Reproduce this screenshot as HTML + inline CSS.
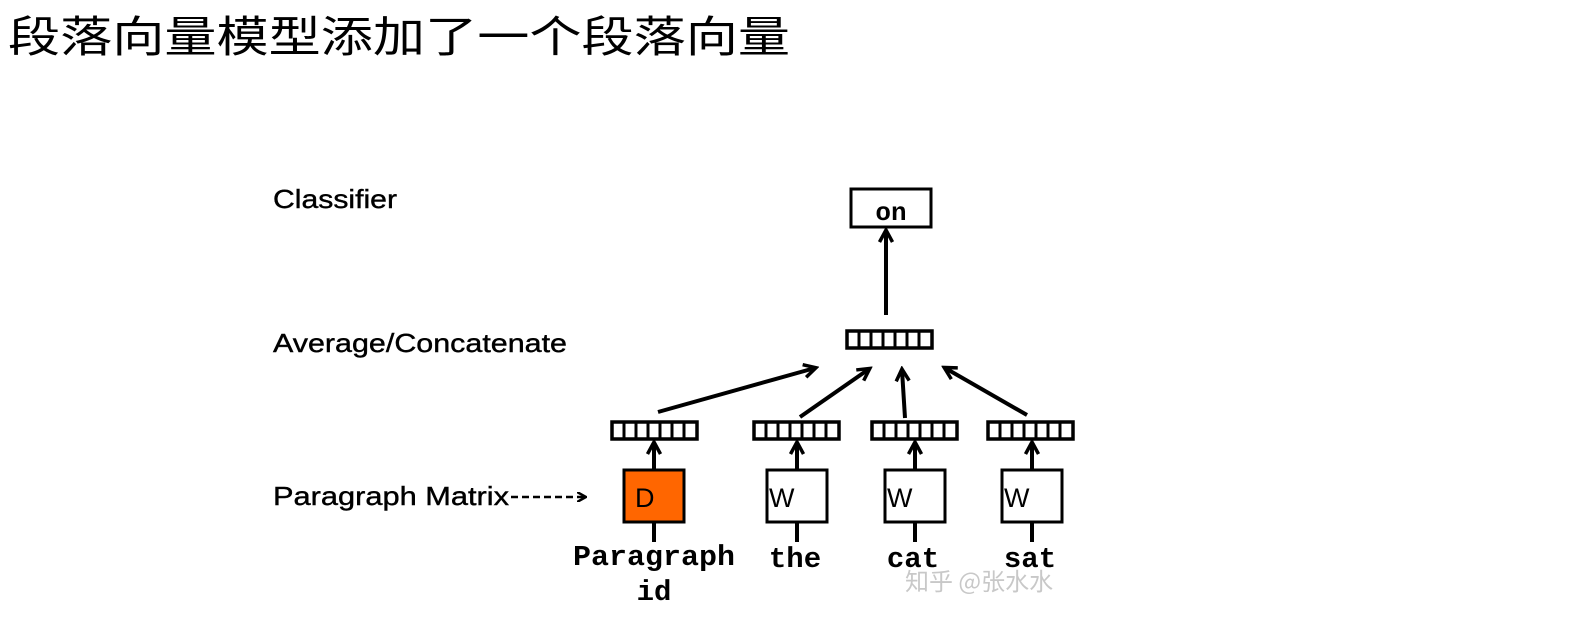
<!DOCTYPE html>
<html><head><meta charset="utf-8"><style>
html,body{margin:0;padding:0;background:#fff;}
svg{display:block;}
</style></head><body>
<svg width="1572" height="637" viewBox="0 0 1572 637" xmlns="http://www.w3.org/2000/svg">
<defs>
<marker id="ah" markerWidth="10" markerHeight="10" refX="8" refY="5" orient="auto" markerUnits="userSpaceOnUse">
<path d="M0,0 L9,5 L0,10" fill="none" stroke="#000" stroke-width="2.5"/>
</marker>
<marker id="ah2" markerWidth="16" markerHeight="16" refX="12" refY="8" orient="auto" markerUnits="userSpaceOnUse">
<path d="M1,1.5 L13,8 L1,14.5" fill="none" stroke="#000" stroke-width="3.5"/>
</marker>
<g id="vec">
<rect x="0" y="0" width="85" height="17" fill="#fff" stroke="#000" stroke-width="3.5"/>
<g stroke="#000" stroke-width="3">
<line x1="12" y1="0" x2="12" y2="17"/><line x1="24" y1="0" x2="24" y2="17"/><line x1="36" y1="0" x2="36" y2="17"/><line x1="48" y1="0" x2="48" y2="17"/><line x1="60" y1="0" x2="60" y2="17"/><line x1="72" y1="0" x2="72" y2="17"/>
</g>
</g>
</defs>
<text x="8" y="52" font-family="'Liberation Sans','Noto Sans CJK SC',sans-serif" font-size="43" textLength="782" lengthAdjust="spacingAndGlyphs" fill="#000">段落向量模型添加了一个段落向量</text>

<g font-family="'Liberation Sans',sans-serif" font-size="26" fill="#000" stroke="#000" stroke-width="0.4">
<text x="273" y="208" textLength="124" lengthAdjust="spacingAndGlyphs">Classifier</text>
<text x="273" y="352" textLength="294" lengthAdjust="spacingAndGlyphs">Average/Concatenate</text>
<text x="273" y="505" textLength="236" lengthAdjust="spacingAndGlyphs">Paragraph Matrix</text>
</g>
<line x1="511" y1="497" x2="585" y2="497" stroke="#000" stroke-width="2.4" stroke-dasharray="7,4" marker-end="url(#ah)"/>

<rect x="851" y="189" width="80" height="38" fill="#fff" stroke="#000" stroke-width="3"/>
<text x="891" y="220" font-family="'Liberation Mono',monospace" font-weight="bold" font-size="26" text-anchor="middle">on</text>
<line x1="886" y1="315" x2="886" y2="231" stroke="#000" stroke-width="4" marker-end="url(#ah2)"/>

<use href="#vec" x="847" y="331"/>
<use href="#vec" x="612" y="422"/>
<use href="#vec" x="754" y="422"/>
<use href="#vec" x="872" y="422"/>
<use href="#vec" x="988" y="422"/>

<g stroke="#000" stroke-width="4">
<line x1="658" y1="412" x2="815" y2="368" marker-end="url(#ah2)"/>
<line x1="800" y1="417" x2="869" y2="369" marker-end="url(#ah2)"/>
<line x1="905" y1="418" x2="902" y2="370" marker-end="url(#ah2)"/>
<line x1="1027" y1="415" x2="945" y2="368" marker-end="url(#ah2)"/>
<line x1="654" y1="470" x2="654" y2="443" marker-end="url(#ah2)"/>
<line x1="797" y1="470" x2="797" y2="443" marker-end="url(#ah2)"/>
<line x1="915" y1="470" x2="915" y2="443" marker-end="url(#ah2)"/>
<line x1="1032" y1="470" x2="1032" y2="443" marker-end="url(#ah2)"/>
<line x1="654" y1="522" x2="654" y2="542"/>
<line x1="797" y1="522" x2="797" y2="542"/>
<line x1="915" y1="522" x2="915" y2="542"/>
<line x1="1032" y1="522" x2="1032" y2="542"/>
</g>

<rect x="624" y="470" width="60" height="52" fill="#ff6600" stroke="#000" stroke-width="3"/>
<rect x="767" y="470" width="60" height="52" fill="#fff" stroke="#000" stroke-width="3"/>
<rect x="885" y="470" width="60" height="52" fill="#fff" stroke="#000" stroke-width="3"/>
<rect x="1002" y="470" width="60" height="52" fill="#fff" stroke="#000" stroke-width="3"/>
<g font-family="'Liberation Sans',sans-serif" font-size="27" fill="#000">
<text x="635" y="507">D</text>
<text x="769" y="507">W</text>
<text x="887" y="507">W</text>
<text x="1004" y="507">W</text>
</g>

<g font-family="'Liberation Mono',monospace" font-weight="bold" font-size="29" fill="#000" text-anchor="middle">
<text x="654" y="565" textLength="162" lengthAdjust="spacingAndGlyphs">Paragraph</text>
<text x="654" y="600">id</text>
<text x="795" y="567">the</text>
<text x="913" y="567">cat</text>
<text x="1030" y="567">sat</text>
</g>
<text x="905" y="590" font-family="'Noto Sans CJK SC',sans-serif" font-size="24" fill="#bbb" opacity="0.8">知乎 @张水水</text>
</svg>
</body></html>
